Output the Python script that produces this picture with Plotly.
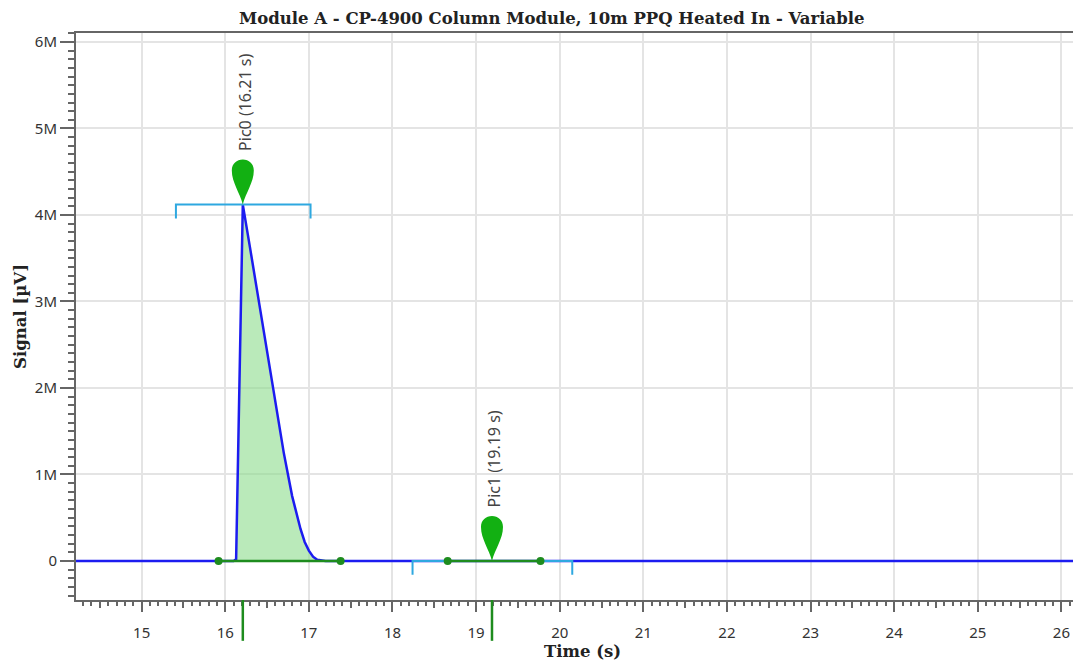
import plotly.graph_objects as go

# chromatogram trace (time in s, signal in µV)
time = [14.2, 16.10, 16.13, 16.17, 16.21, 16.30, 16.40, 16.50, 16.60, 16.70,
        16.80, 16.85, 16.90, 16.95, 17.00, 17.05, 17.10, 17.20, 26.5]
signal = [0, 0, 20e3, 2.0e6, 4.12e6, 3.6e6, 3.0e6, 2.4e6, 1.8e6, 1.25e6,
          0.75e6, 0.55e6, 0.37e6, 0.22e6, 0.12e6, 0.05e6, 0.015e6, 0, 0]

# detected peaks
peak_names = ['Pic0', 'Pic1']
peak_rt = [16.21, 19.19]
peak_height = [4.12e6, 0]
base_start = [15.92, 18.66]
base_end = [17.38, 19.77]
window_start = [15.41, 18.24]
window_end = [17.02, 20.15]
window_level = [4.12e6, 0]

BLUE = '#1c1cf0'
GREEN = '#1e8c1e'
MARK = '#12b012'
CYAN = '#2ea8e0'
AXIS = '#666666'
SERIF = 'DejaVu Serif'
SANS = 'Noto Sans'
X_RANGE = [14.215, 26.33]

fig = go.Figure()

# filled area of the integrated peak
fx = [t for t in time if base_start[0] <= t <= base_end[0]]
fy = [s for t, s in zip(time, signal) if base_start[0] <= t <= base_end[0]]
fig.add_trace(go.Scatter(x=fx, y=fy, mode='lines', fill='tozeroy',
                         fillcolor='rgba(140,220,140,0.6)',
                         line=dict(width=0), hoverinfo='skip'))

fig.add_trace(go.Scatter(x=time, y=signal, mode='lines',
                         line=dict(color=BLUE, width=2.5)))

for i in range(len(peak_rt)):
    # integration window bracket
    d = 0.16e6
    fig.add_trace(go.Scatter(
        x=[window_start[i], window_start[i], window_end[i], window_end[i]],
        y=[window_level[i] - d, window_level[i], window_level[i], window_level[i] - d],
        mode='lines', line=dict(color=CYAN, width=2)))
    # baseline
    fig.add_trace(go.Scatter(
        x=[base_start[i], base_end[i]], y=[0, 0], mode='lines+markers',
        line=dict(color=GREEN, width=2.5), marker=dict(size=8, color=GREEN)))
    # teardrop marker
    fig.add_shape(type='path', xref='x', yref='y',
                  xsizemode='pixel', ysizemode='pixel',
                  xanchor=peak_rt[i], yanchor=peak_height[i],
                  path='M0,0 C-3,12 -11,22 -11,34 C-11,41 -6,45 0,45 '
                       'C6,45 11,41 11,34 C11,22 3,12 0,0 Z',
                  fillcolor=MARK, line=dict(width=0))
    # retention time tick under the axis
    fig.add_shape(type='line', xref='x', yref='paper',
                  x0=peak_rt[i], x1=peak_rt[i], y0=0, y1=-0.072,
                  line=dict(color=GREEN, width=2.5))
    fig.add_annotation(x=peak_rt[i], y=peak_height[i],
                       text=f'{peak_names[i]} ({peak_rt[i]:.2f} s)',
                       textangle=-90, showarrow=False, yanchor='bottom',
                       yshift=52, xshift=2,
                       font=dict(family=SANS, size=16, color='#444444'))

fig.update_layout(
    width=1081, height=666,
    margin=dict(l=68, r=0, t=25, b=74),
    plot_bgcolor='white', paper_bgcolor='white',
    showlegend=False,
    title=dict(text='<b>Module A - CP-4900 Column Module, 10m PPQ Heated In - Variable</b>',
               x=0.503, xanchor='center', y=0.985, yanchor='middle',
               font=dict(family=SERIF, size=16.5, color='#222222')),
    xaxis=dict(range=X_RANGE, dtick=1, showgrid=True, automargin=False,
               gridcolor='#e4e4e4', gridwidth=1.5, zeroline=False,
               showline=True, linecolor=AXIS, linewidth=2, mirror=True,
               ticks='outside', ticklen=10, tickwidth=2, tickcolor=AXIS,
               ticklabelstandoff=8,
               minor=dict(dtick=0.1, ticks='outside', ticklen=4,
                          tickcolor=AXIS, tickwidth=1.5, showgrid=False),
               tickfont=dict(family=SANS, size=15, color='#333333'),
               title=dict(text='<b>Time (s)</b>', standoff=1,
                          font=dict(family=SERIF, size=16.5, color='#222222'))),
    xaxis2=dict(range=X_RANGE, dtick=0.5, overlaying='x',
                side='bottom', showgrid=False, zeroline=False, automargin=False,
                showticklabels=False, ticks='outside', ticklen=7,
                tickwidth=1.5, tickcolor=AXIS),
    yaxis=dict(range=[-0.451e6, 6.104e6], dtick=1e6, tickformat='~s',
               showgrid=True, gridcolor='#e4e4e4', gridwidth=1.5, automargin=False,
               zeroline=False, showline=True, linecolor=AXIS, linewidth=2,
               ticks='outside', ticklen=14, tickwidth=2, tickcolor=AXIS,
               minor=dict(dtick=0.1e6, ticks='outside', ticklen=6,
                          tickcolor=AXIS, tickwidth=1.5, showgrid=False),
               tickfont=dict(family=SANS, size=15, color='#333333'),
               title=dict(text='<b>Signal [µV]</b>', standoff=4,
                          font=dict(family=SERIF, size=16.5, color='#222222'))),
)

# dummy trace so the helper axis with half-second ticks is drawn
fig.add_trace(go.Scatter(x=[None], y=[None], xaxis='x2', showlegend=False))

fig.write_html('out.html')
